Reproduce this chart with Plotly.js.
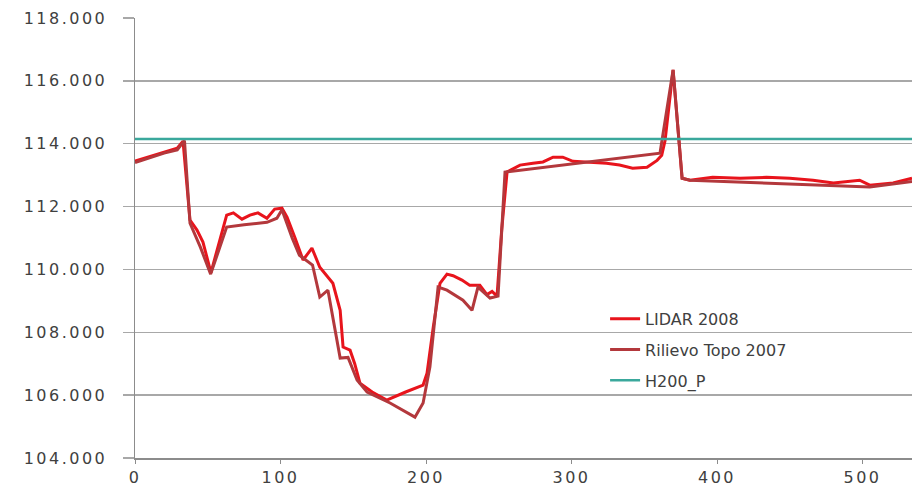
<!DOCTYPE html>
<html>
<head>
<meta charset="utf-8">
<script src="https://cdn.plot.ly/plotly-3.0.1.min.js"></script>
<style>
html,body{margin:0;padding:0;background:#fff;}
#chart{width:912px;height:488px;}
#chart .xtick text, #chart .ytick text{letter-spacing:2.5px;}
</style>
</head>
<body>
<div id="chart"></div>
<script>
// Distance (x) and elevation values
const lidarX = [0, 10, 20, 29, 33, 37.8, 42.6, 46.7, 52.2, 58, 63, 67.6, 73.5, 79, 84.5, 90.7, 96, 101, 104.5, 110, 115.5, 121.6, 127, 136, 141, 143, 147.8, 151, 154.6, 163, 173, 186, 198, 200.7, 205, 209.6, 214.4, 218.6, 224.7, 230, 237, 241.9, 245.4, 248.8, 252, 255.7, 264.6, 273.5, 280.4, 287.3, 294, 301, 312.7, 324, 333, 342, 351.9, 358.8, 362, 364.3, 369.8, 376, 381.4, 397, 415.8, 434, 450, 466, 480, 498, 505, 521, 534];
const lidarY = [113.45, 113.6, 113.75, 113.86, 114.08, 111.57, 111.25, 110.87, 109.9, 110.9, 111.73, 111.8, 111.6, 111.73, 111.8, 111.63, 111.92, 111.95, 111.66, 111.0, 110.3, 110.68, 110.07, 109.56, 108.7, 107.53, 107.43, 107.0, 106.38, 106.1, 105.84, 106.1, 106.32, 106.7, 108.17, 109.56, 109.85, 109.8, 109.66, 109.5, 109.5, 109.2, 109.3, 109.15, 111.25, 113.1, 113.32, 113.38, 113.42, 113.57, 113.57, 113.44, 113.41, 113.38, 113.32, 113.22, 113.25, 113.47, 113.63, 114.1, 116.35, 112.9, 112.84, 112.93, 112.9, 112.93, 112.9, 112.84, 112.75, 112.84, 112.68, 112.75, 112.9];

const topoX = [0, 10, 20, 29, 34, 37.8, 45, 52, 63, 75, 90.7, 97.5, 101, 108, 113, 122, 127, 132.6, 141, 146.4, 152.6, 159.5, 175.3, 192.4, 198, 202.7, 208.3, 214.4, 225.4, 231.6, 235.7, 244, 249.5, 254.3, 360.8, 369.8, 376, 381.4, 505, 534];
const topoY = [113.4, 113.55, 113.7, 113.8, 114.1, 111.47, 110.7, 109.85, 111.35, 111.42, 111.5, 111.63, 111.9, 111.0, 110.45, 110.14, 109.12, 109.34, 107.18, 107.2, 106.48, 106.1, 105.75, 105.3, 105.75, 106.9, 109.44, 109.34, 109.02, 108.7, 109.44, 109.09, 109.15, 113.1, 113.7, 116.35, 112.9, 112.84, 112.62, 112.8];

const hX = [0, 540];
const hY = [114.15, 114.15];

const names = ['LIDAR 2008', 'Rilievo Topo 2007', 'H200_P'];
const xTicks = [0, 100, 200, 300, 400, 500];
const yTicks = [104, 106, 108, 110, 112, 114, 116, 118];

const tickFont = {family: 'DejaVu Sans, Verdana, sans-serif', size: 16, color: '#404040'};
const legendFont = {family: 'DejaVu Sans, Verdana, sans-serif', size: 16, color: '#404040'};

const traces = [
  {x: lidarX, y: lidarY, name: names[0], mode: 'lines', legendgroup: 'a',
   line: {color: '#e8141c', width: 3}},
  {x: topoX, y: topoY, name: names[1], mode: 'lines', legendgroup: 'b',
   line: {color: '#b3383c', width: 3}},
  {x: hX, y: hY, name: names[2], mode: 'lines', legendgroup: 'c',
   line: {color: '#3aa89c', width: 2.5}}
];

const layout = {
  width: 912, height: 488,
  margin: {l: 135, r: 0, t: 18, b: 30, pad: 0},
  paper_bgcolor: '#ffffff', plot_bgcolor: '#ffffff',
  showlegend: true,
  legend: {x: 0.605, y: 0.355, xanchor: 'left', yanchor: 'top',
           bgcolor: 'rgba(0,0,0,0)', font: legendFont, tracegroupgap: 7,
           itemwidth: 30},
  xaxis: {range: [0, 534], tickvals: xTicks, ticktext: xTicks.map(String),
          showgrid: false, zeroline: false, showline: true, linecolor: '#8c8c8c', linewidth: 1.5,
          ticks: 'outside', ticklen: 4, tickcolor: '#8c8c8c', tickfont: tickFont},
  yaxis: {range: [104, 118], tickvals: yTicks, tickformat: '.3f',
          showgrid: true, gridcolor: '#a8a8a8', gridwidth: 1.5, zeroline: false,
          showline: true, linecolor: '#8c8c8c', linewidth: 1.5,
          ticks: 'outside', ticklen: 11, tickcolor: '#a8a8a8', tickwidth: 1.5,
          ticklabelstandoff: 12, tickfont: tickFont}
};

Plotly.newPlot('chart', traces, layout, {displayModeBar: false, staticPlot: true});
</script>
</body>
</html>
